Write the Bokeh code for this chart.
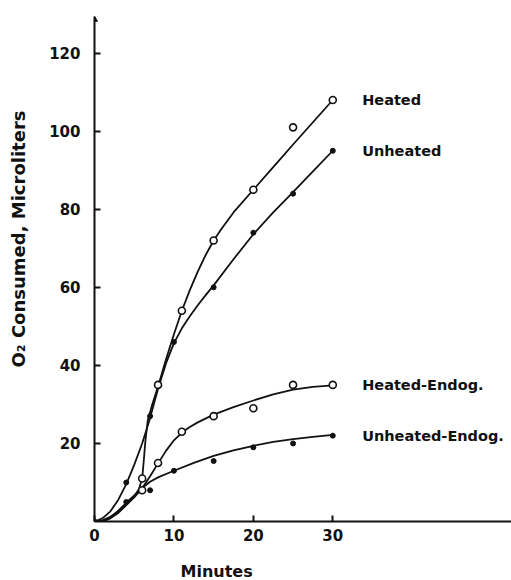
from bokeh.plotting import figure
from bokeh.models import Range1d, FixedTicker, Title
from bokeh.core.properties import value
from bokeh.embed import file_html
from bokeh.resources import INLINE

# ---- data points (minutes, microliters O2) ----
heated_x = [6, 8, 11, 15, 20, 25, 30]
heated_y = [11, 35, 54, 72, 85, 101, 108]

unheated_x = [0, 4, 7, 10, 15, 20, 25, 30]
unheated_y = [0, 10, 27, 46, 60, 74, 84, 95]

heated_endog_x = [6, 8, 11, 15, 20, 25, 30]
heated_endog_y = [8, 15, 23, 27, 29, 35, 35]

unheated_endog_x = [4, 7, 10, 15, 20, 25, 30]
unheated_endog_y = [5, 8, 13, 15.5, 19, 20, 22]

# ---- hand-drawn fitted curves ----
heated_curve_x = [0, 1, 2, 3, 4, 5, 5.6, 6.0, 6.2, 6.4, 6.7, 7.2, 8, 9, 10, 11, 12, 13, 14, 15, 16, 17.5, 20, 22.5, 25, 27.5, 30]
heated_curve_y = [0, 0.3, 1.2, 2.6, 4.3, 6.4, 8.3, 11, 15.5, 20.5, 25.8, 29.5, 34.6, 41.5, 48, 54, 59.3, 64, 68.3, 72, 75, 79.2, 85, 90.8, 96.6, 102.3, 108]

unheated_curve_x = [0, 1, 2, 3, 4, 5, 6, 6.9, 8, 9, 10, 11, 12, 13, 14, 15, 17.5, 20, 22.5, 25, 27.5, 30]
unheated_curve_y = [0, 0.8, 2.6, 5.6, 9.6, 14.5, 20, 25.8, 34, 40.5, 45.7, 49.5, 52.6, 55.4, 58, 60.5, 67.2, 73.6, 79.2, 84.4, 89.7, 95]

heated_endog_curve_x = [0, 1, 2, 3, 4, 5, 6, 7, 8, 9, 10, 11, 12, 13, 15, 17.5, 20, 22.5, 25, 27.5, 30]
heated_endog_curve_y = [0, 0, 0.8, 2.2, 4.2, 6.2, 8.5, 11.6, 14.9, 18.1, 20.8, 22.8, 24.2, 25.4, 27.4, 29.3, 31, 32.6, 33.8, 34.5, 34.9]

unheated_endog_curve_x = [0, 1, 2, 3, 4, 5, 6, 7, 8, 10, 12.5, 15, 17.5, 20, 22.5, 25, 27.5, 30]
unheated_endog_curve_y = [0, 0, 1, 2.8, 4.8, 6.7, 8.6, 10.2, 11.3, 13, 15, 16.8, 18.2, 19.4, 20.4, 21.1, 21.7, 22.2]

series_names = ["Heated", "Unheated", "Heated-Endog.", "Unheated-Endog."]

x_ticks = [0, 10, 20, 30]
y_ticks = [20, 40, 60, 80, 100, 120]

FONT = "DejaVu Sans"
INK = "#111111"

p = figure(width=511, height=580, output_backend="svg", toolbar_location=None,
           x_range=Range1d(0, 52.5), y_range=Range1d(0, 129.4),
           min_border_left=94, min_border_right=0, min_border_top=16, min_border_bottom=59)
p.outline_line_color = None
p.xgrid.visible = False
p.ygrid.visible = False
p.background_fill_color = "white"
p.border_fill_color = "white"

for ax, ticks in ((p.xaxis, x_ticks), (p.yaxis, y_ticks)):
    ax.ticker = FixedTicker(ticks=ticks)
    ax.axis_line_width = 2
    ax.axis_line_color = INK
    ax.major_tick_in = 6
    ax.major_tick_out = 0
    ax.major_tick_line_width = 2
    ax.major_tick_line_color = INK
    ax.minor_tick_line_color = None
    ax.major_label_text_font = FONT
    ax.major_label_text_font_style = "bold"
    ax.major_label_text_font_size = "15px"
    ax.major_label_text_color = INK
    # invisible spacer label, only to push the title panel outward
    ax.axis_label = " "
    ax.axis_label_text_font_size = "1px"
p.xaxis.major_label_standoff = 7
p.yaxis.major_label_standoff = 14
p.xaxis.axis_label_standoff = 12
p.yaxis.axis_label_standoff = 12

# curves
for cx, cy in ((heated_curve_x, heated_curve_y), (unheated_curve_x, unheated_curve_y),
               (heated_endog_curve_x, heated_endog_curve_y), (unheated_endog_curve_x, unheated_endog_curve_y)):
    p.line(cx, cy, line_width=1.8, line_color=INK, line_join="round")

# points
for px_, py_ in ((heated_x, heated_y), (heated_endog_x, heated_endog_y)):
    p.scatter(px_, py_, marker="circle", size=7, fill_color="white", line_color=INK, line_width=1.6)
for px_, py_ in ((unheated_x, unheated_y), (unheated_endog_x, unheated_endog_y)):
    p.scatter(px_, py_, marker="circle", size=5, fill_color=INK, line_color=INK)

# arrow tip on the y axis
p.scatter([0], [128.6], marker="triangle", size=6, fill_color=INK, line_color=INK)

# series labels, to the right of the last point
last_y = [heated_y[-1], unheated_y[-1], heated_endog_y[-1], unheated_endog_y[-1]]
p.text(x=[heated_x[-1] + 3.7] * 4, y=last_y, text=series_names,
       text_font=value(FONT), text_font_style="bold", text_font_size="14.5px",
       text_color=INK, text_align="left", text_baseline="middle")

# axis titles
p.add_layout(Title(text="Minutes", align="left", offset=86, standoff=0, vertical_align="bottom",
                   text_font=FONT, text_font_style="bold", text_font_size="16px", text_color=INK), "below")
p.add_layout(Title(text="O\u2082 Consumed, Microliters", align="right", offset=94, standoff=0,
                   vertical_align="top",
                   text_font=FONT, text_font_style="bold", text_font_size="18px", text_color=INK), "left")

open("out.html", "w").write(file_html(p, INLINE))
